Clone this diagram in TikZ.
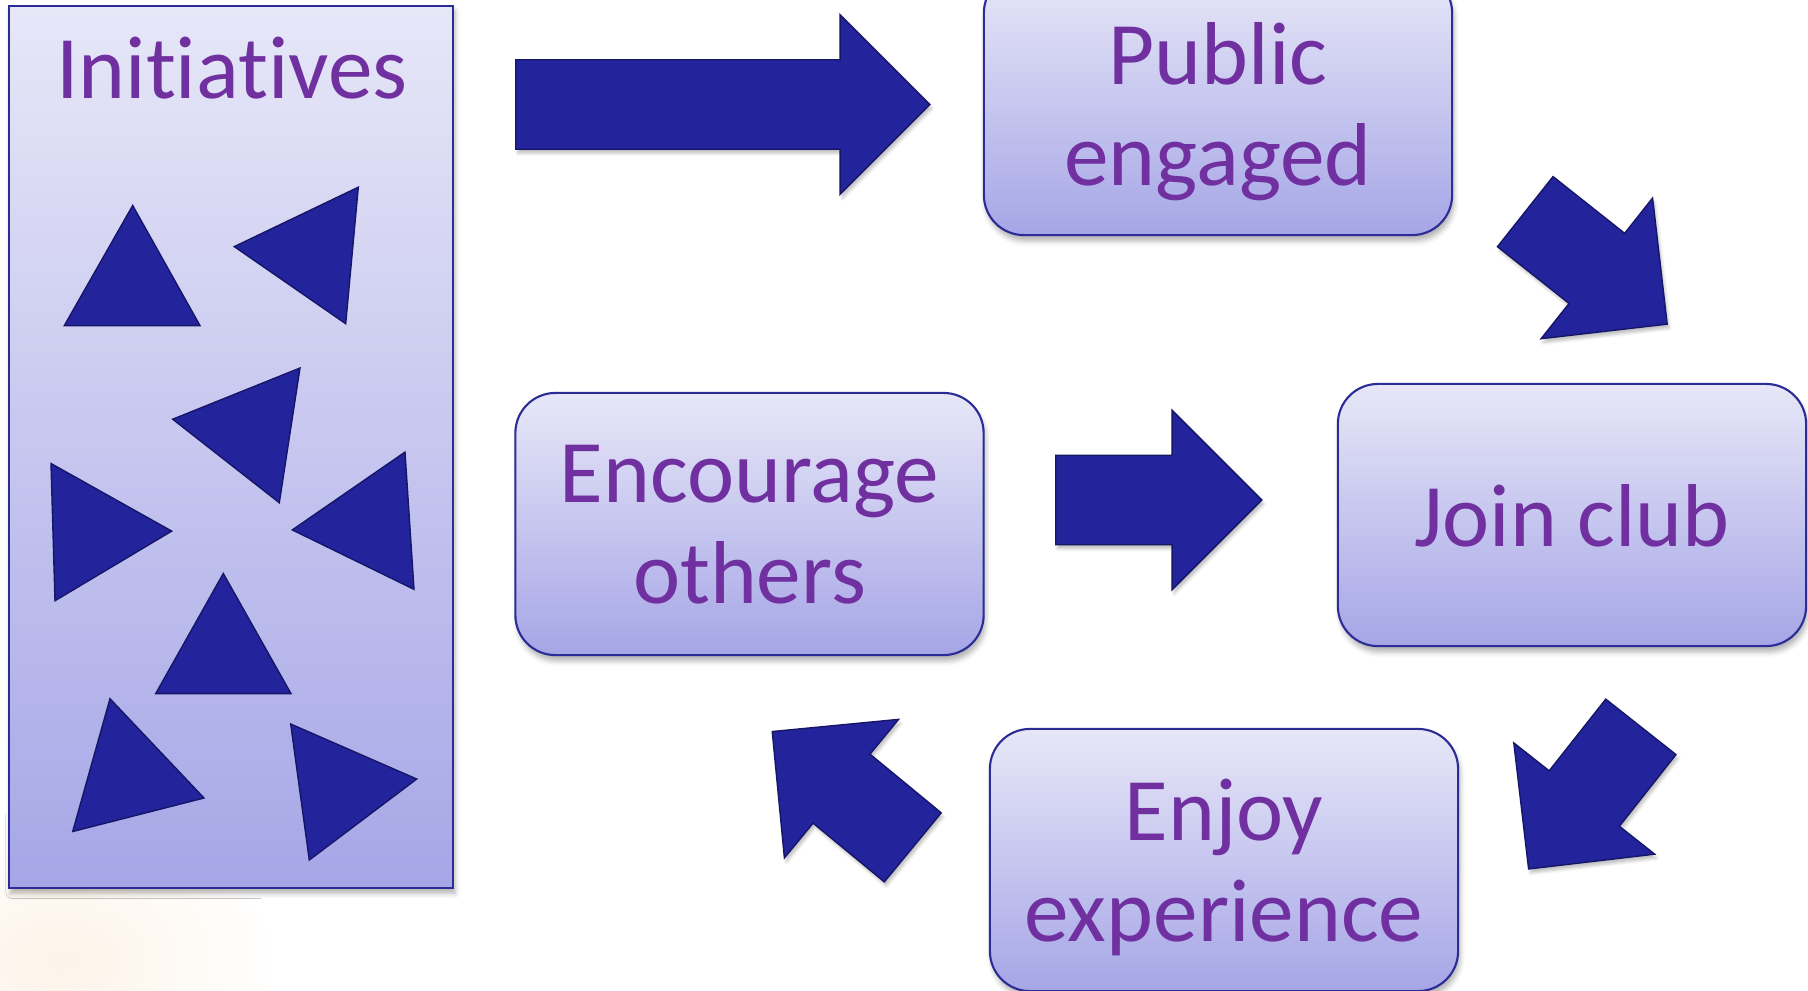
\documentclass[tikz,border=0pt]{standalone}
\usepackage{fontspec}
\setmainfont{Carlito}[Ligatures=NoCommon]
\usetikzlibrary{positioning}
\usetikzlibrary{shapes.arrows}
\usetikzlibrary{shadows.blur}
\definecolor{boxtop}{RGB}{231,231,248}
\definecolor{boxbot}{RGB}{166,166,231}
\definecolor{boxline}{RGB}{44,44,150}
\definecolor{labelpurple}{RGB}{112,48,160}
\definecolor{arrowblue}{RGB}{35,35,155}
\definecolor{arrowedge}{RGB}{22,22,105}
\definecolor{peach}{RGB}{253,243,232}

\begin{document}
\begin{tikzpicture}[
            x = 0.01cm, y = -0.01cm, % pixel grid, y runs down
            every node/.style = {font=\fontsize{25.4}{28.75}\selectfont, text=labelpurple},
            stepbox/.style = {
                rectangle,
                rounded corners = 0.4cm,
                draw = boxline,
                semithick,
                top color = boxtop,
                bottom color = boxbot,
                minimum width = 4.68cm,
                minimum height = 2.62cm,
                align = center,
                text depth = 0pt,
                blur shadow = {shadow xshift=0.02cm, shadow yshift=-0.06cm,
                               shadow blur radius=0.05cm, shadow opacity=30}
            },
            panel/.style = {
                rectangle,
                draw = boxline,
                semithick,
                top color = boxtop,
                bottom color = boxbot,
                minimum width = 4.44cm,
                minimum height = 8.82cm,
                blur shadow = {shadow xshift=0.02cm, shadow yshift=-0.05cm,
                               shadow blur radius=0.05cm, shadow opacity=30}
            },
            blockarrow/.style = {
                single arrow,
                single arrow tip angle = 90,
                single arrow head extend = 0.45cm,
                inner xsep = 0pt,
                inner ysep = 0.44cm,
                anchor = tail,
                fill = arrowblue,
                draw = arrowedge,
                thin,
                blur shadow = {shadow xshift=0.02cm, shadow yshift=-0.04cm,
                               shadow blur radius=0.03cm, shadow opacity=25}
            },
            tri/.style = {fill = arrowblue, draw = arrowedge, thin}
        ]

        \useasboundingbox (0,0) rectangle (1808,990);

        % faint glow behind the panel
        \shade[inner color=peach, outer color=white] (60,960) ellipse [x radius=2.2cm, y radius=1.5cm];

	% initiatives panel
        \node[panel] (initiatives) at (231,447) {};
        \node[anchor=base] (initTitle) at (232,98) {Initiatives};

        \foreach \ax/\ay/\bx/\by/\cx/\cy in {
            132.7/205.5/64.3/325.6/200/325.6,
            234.3/246.6/358.3/187.2/345.7/323.7,
            172.7/419.2/300/368/279.3/502.7,
            51/463.5/171.7/531.1/55/600.7,
            292.3/529.9/405/452.1/414/589.3,
            223.3/573.5/155.7/693.6/291/693.6,
            110/698.7/204/798/72.7/831.5,
            290.7/724/416.7/779/309.3/860}
          \draw[tri] (\ax,\ay) -- (\bx,\by) -- (\cx,\cy) -- cycle;

        % cycle boxes
        \node[stepbox] (public) at (1218,104) {Public\\engaged};
        \node[stepbox] (join) at (1572,515) {Join club};
        \node[stepbox] (enjoy) at (1224,860) {Enjoy\\experience};
        \node[stepbox] (encourage) at (749.5,524) {Encourage\\others};

        % block arrows
        \node[blockarrow, minimum height=4.14cm] (initArrow) at (515,104.5) {};
        \node[blockarrow, minimum height=1.81cm, rotate=-38.4] (pubJoin) at (1524.7,211.2) {};
        \node[blockarrow, minimum height=1.81cm, rotate=-128.3] (joinEnjoy) at (1641.3,726.3) {};
        \node[blockarrow, minimum height=1.82cm, rotate=140.5] (enjoyEnc) at (913.3,847.8) {};
        \node[blockarrow, minimum height=2.06cm] (encJoin) at (1055,500) {};

\end{tikzpicture}
\end{document}
